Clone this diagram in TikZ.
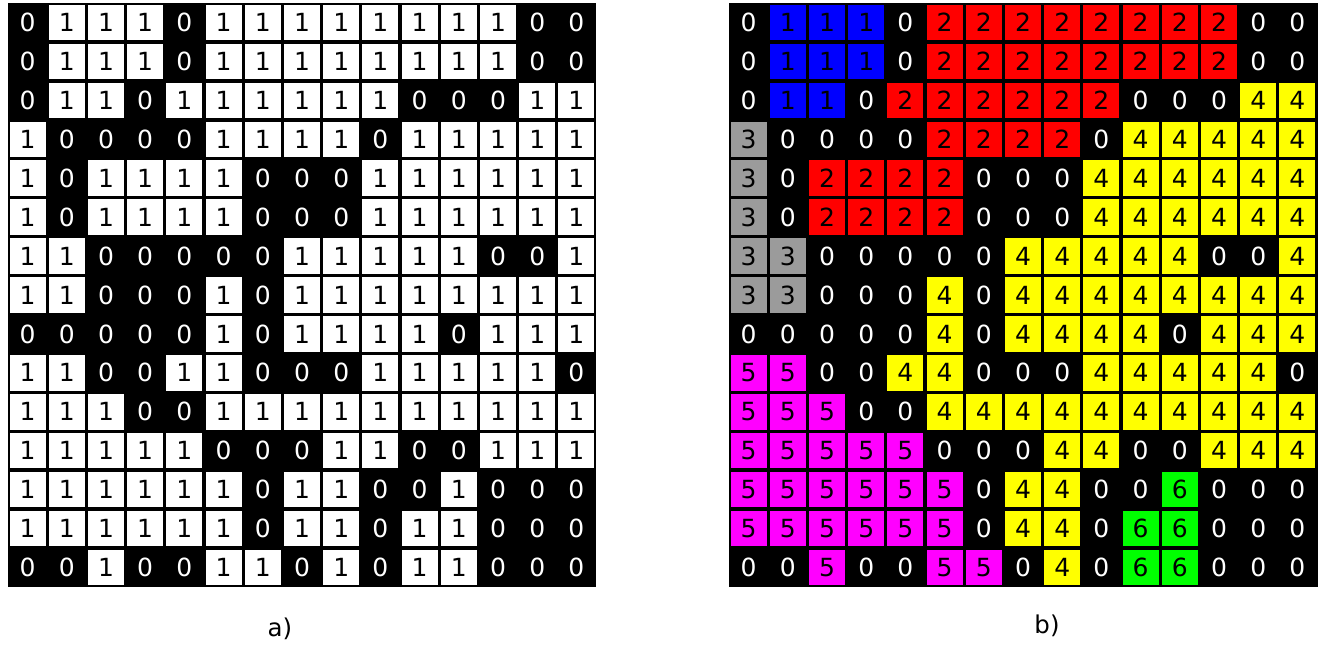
\documentclass[tikz,border=0pt]{standalone}
\usepackage{fontspec}
\setmainfont{DejaVu Sans}
\definecolor{gA0}{RGB}{0,0,0}
\definecolor{gA1}{RGB}{255,255,255}
\definecolor{gB0}{RGB}{0,0,0}
\definecolor{gB1}{RGB}{0,0,255}
\definecolor{gB2}{RGB}{255,0,0}
\definecolor{gB3}{RGB}{155,155,155}
\definecolor{gB4}{RGB}{255,255,0}
\definecolor{gB5}{RGB}{255,0,255}
\definecolor{gB6}{RGB}{0,255,0}
\colorlet{tx0}{white}
\colorlet{tx1}{black}\colorlet{tx2}{black}\colorlet{tx3}{black}
\colorlet{tx4}{black}\colorlet{tx5}{black}\colorlet{tx6}{black}
\begin{document}
\begin{tikzpicture}[x=1pt,y=-1pt,
  cell/.style={rectangle,minimum width=36pt,minimum height=35.5pt,inner sep=0pt,font=\fontsize{25}{28}\selectfont},
  lab/.style={font=\fontsize{24.5}{28}\selectfont}]
\useasboundingbox (0,0) rectangle (1335,648);
\fill[black] (8,3) rectangle (596,587);
\fill[black] (729,3) rectangle (1318,587);
\foreach \rowlist [count=\r from 0] in {
 {0,1,1,1,0,1,1,1,1,1,1,1,1,0,0},
 {0,1,1,1,0,1,1,1,1,1,1,1,1,0,0},
 {0,1,1,0,1,1,1,1,1,1,0,0,0,1,1},
 {1,0,0,0,0,1,1,1,1,0,1,1,1,1,1},
 {1,0,1,1,1,1,0,0,0,1,1,1,1,1,1},
 {1,0,1,1,1,1,0,0,0,1,1,1,1,1,1},
 {1,1,0,0,0,0,0,1,1,1,1,1,0,0,1},
 {1,1,0,0,0,1,0,1,1,1,1,1,1,1,1},
 {0,0,0,0,0,1,0,1,1,1,1,0,1,1,1},
 {1,1,0,0,1,1,0,0,0,1,1,1,1,1,0},
 {1,1,1,0,0,1,1,1,1,1,1,1,1,1,1},
 {1,1,1,1,1,0,0,0,1,1,0,0,1,1,1},
 {1,1,1,1,1,1,0,1,1,0,0,1,0,0,0},
 {1,1,1,1,1,1,0,1,1,0,1,1,0,0,0},
 {0,0,1,0,0,1,1,0,1,0,1,1,0,0,0}} {
  \foreach \v [count=\c from 0] in \rowlist {
    \node[cell,fill=gA\v,text=tx\v] (a-\r-\c) at ({27.6+39.2*\c},{22.47+38.93*\r}) {\v};
  }
}
\foreach \rowlist [count=\r from 0] in {
 {0,1,1,1,0,2,2,2,2,2,2,2,2,0,0},
 {0,1,1,1,0,2,2,2,2,2,2,2,2,0,0},
 {0,1,1,0,2,2,2,2,2,2,0,0,0,4,4},
 {3,0,0,0,0,2,2,2,2,0,4,4,4,4,4},
 {3,0,2,2,2,2,0,0,0,4,4,4,4,4,4},
 {3,0,2,2,2,2,0,0,0,4,4,4,4,4,4},
 {3,3,0,0,0,0,0,4,4,4,4,4,0,0,4},
 {3,3,0,0,0,4,0,4,4,4,4,4,4,4,4},
 {0,0,0,0,0,4,0,4,4,4,4,0,4,4,4},
 {5,5,0,0,4,4,0,0,0,4,4,4,4,4,0},
 {5,5,5,0,0,4,4,4,4,4,4,4,4,4,4},
 {5,5,5,5,5,0,0,0,4,4,0,0,4,4,4},
 {5,5,5,5,5,5,0,4,4,0,0,6,0,0,0},
 {5,5,5,5,5,5,0,4,4,0,6,6,0,0,0},
 {0,0,5,0,0,5,5,0,4,0,6,6,0,0,0}} {
  \foreach \v [count=\c from 0] in \rowlist {
    \node[cell,fill=gB\v,text=tx\v] (b-\r-\c) at ({748.6+39.2*\c},{22.47+38.93*\r}) {\v};
  }
}
\node[lab] (la) at (280,629) {a)};
\node[lab] (lb) at (1047,626) {b)};
\end{tikzpicture}
\end{document}
